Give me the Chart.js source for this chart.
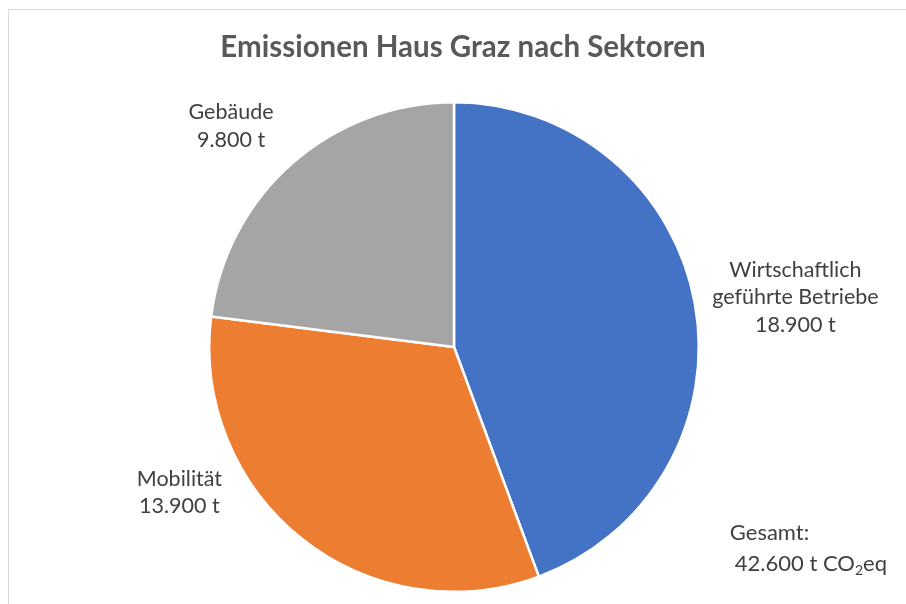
<!DOCTYPE html>
<html>
<head>
<meta charset="utf-8">
<script src="https://cdn.jsdelivr.net/npm/chart.js@4/dist/chart.umd.min.js"></script>
<style>
  html, body { margin: 0; padding: 0; background: #fff; }
  #wrap { width: 906px; height: 604px; }
</style>
</head>
<body>
<div id="wrap"><canvas id="mainChart" width="906" height="604"></canvas></div>
<script>
  // data
  const sectors = ['Wirtschaftlich geführte Betriebe', 'Mobilität', 'Gebäude'];
  const labelLines = [
    ['Wirtschaftlich', 'geführte Betriebe'],
    ['Mobilität'],
    ['Gebäude']
  ];
  const emissions = [18900, 13900, 9800];   // t CO2eq
  const sliceColors = ['#4472C4', '#ED7D31', '#A5A5A5'];
  const chartTitle = 'Emissionen Haus Graz nach Sektoren';

  const FONT = 'Lato, "Noto Sans", sans-serif';

  // label anchor relative to pie centre, in units of radius
  const labelSpots = [[1.395, -0.203], [-1.122, 0.595], [-0.911, -0.902]];

  function fmt(v) {
    // German thousands separator
    return v.toString().replace(/\B(?=(\d{3})+(?!\d))/g, '.') + ' t';
  }

  const total = emissions.reduce((a, b) => a + b, 0);

  const decorPlugin = {
    id: 'decor',
    beforeDraw(chart) {
      const ctx = chart.ctx;
      ctx.save();
      ctx.fillStyle = '#fff';
      ctx.fillRect(0, 0, chart.width, chart.height);
      ctx.strokeStyle = '#d9d9d9';
      ctx.lineWidth = 1;
      ctx.strokeRect(8.5, 9.5, 1000, 1000);
      ctx.restore();
    },
    afterDraw(chart) {
      const ctx = chart.ctx;
      const meta = chart.getDatasetMeta(0);
      const arc0 = meta.data[0];
      const cx = arc0.x, cy = arc0.y, r = arc0.outerRadius;

      ctx.save();
      // title
      ctx.fillStyle = '#595959';
      ctx.font = 'bold 29.5px ' + FONT;
      ctx.textAlign = 'center';
      ctx.textBaseline = 'middle';
      ctx.fillText(chartTitle, chart.width / 2 + 10, 47);

      // data labels
      ctx.fillStyle = '#404040';
      ctx.font = '21.5px ' + FONT;
      const lh = 27.5;
      meta.data.forEach((arc, i) => {
        const lines = labelLines[i].concat([fmt(emissions[i])]);
        const x = cx + labelSpots[i][0] * r;
        const yMid = cy + labelSpots[i][1] * r;
        const y0 = yMid - (lines.length - 1) * lh / 2;
        lines.forEach((t, k) => ctx.fillText(t, x, y0 + k * lh));
      });

      // total note
      ctx.textAlign = 'left';
      ctx.font = '22px ' + FONT;
      const gx = cx + 1.127 * r;
      const gy = cy + 0.76 * r;
      ctx.fillText('Gesamt:', gx, gy);
      const l2x = gx + 5, l2y = gy + 31;
      const part1 = fmt(total) + ' CO';
      ctx.fillText(part1, l2x, l2y);
      const w = ctx.measureText(part1).width;
      ctx.font = '14px ' + FONT;
      ctx.fillText('2', l2x + w, l2y + 6);
      const w2 = ctx.measureText('2').width;
      ctx.font = '22px ' + FONT;
      ctx.fillText('eq', l2x + w + w2, l2y);
      ctx.restore();
    }
  };

  const ctx = document.getElementById('mainChart').getContext('2d');
  new Chart(ctx, {
    type: 'pie',
    data: {
      labels: sectors,
      datasets: [{
        data: emissions,
        backgroundColor: sliceColors,
        borderColor: '#ffffff',
        borderWidth: 2.5
      }]
    },
    options: {
      responsive: false,
      animation: false,
      layout: { padding: { left: 208, right: 206, top: 101, bottom: 11 } },
      plugins: {
        legend: { display: false },
        tooltip: { enabled: false },
        title: { display: false }
      }
    },
    plugins: [decorPlugin]
  });
</script>
</body>
</html>
